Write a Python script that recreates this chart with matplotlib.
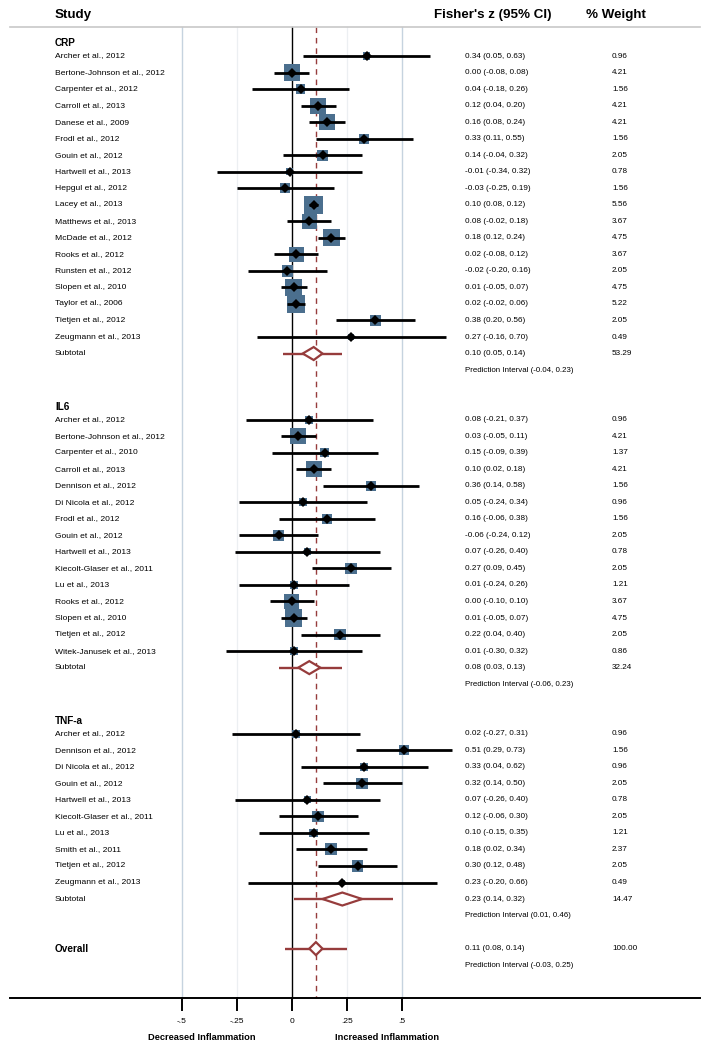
import numpy as np
import matplotlib
matplotlib.use("Agg")
import matplotlib.pyplot as plt
from matplotlib.patches import Polygon

plt.rcParams['font.family'] = ['Liberation Sans Narrow', 'Liberation Sans', 'DejaVu Sans']

# data
crp_studies = ["Archer et al., 2012", "Bertone-Johnson et al., 2012", "Carpenter et al., 2012",
               "Carroll et al., 2013", "Danese et al., 2009", "Frodl et al., 2012", "Gouin et al., 2012",
               "Hartwell et al., 2013", "Hepgul et al., 2012", "Lacey et al., 2013", "Matthews et al., 2013",
               "McDade et al., 2012", "Rooks et al., 2012", "Runsten et al., 2012", "Slopen et al., 2010",
               "Taylor et al., 2006", "Tietjen et al., 2012", "Zeugmann et al., 2013"]
crp_est = [0.34, 0.00, 0.04, 0.12, 0.16, 0.33, 0.14, -0.01, -0.03, 0.10, 0.08, 0.18, 0.02, -0.02, 0.01, 0.02, 0.38, 0.27]
crp_lo = [0.05, -0.08, -0.18, 0.04, 0.08, 0.11, -0.04, -0.34, -0.25, 0.08, -0.02, 0.12, -0.08, -0.20, -0.05, -0.02, 0.20, -0.16]
crp_hi = [0.63, 0.08, 0.26, 0.20, 0.24, 0.55, 0.32, 0.32, 0.19, 0.12, 0.18, 0.24, 0.12, 0.16, 0.07, 0.06, 0.56, 0.70]
crp_w = [0.96, 4.21, 1.56, 4.21, 4.21, 1.56, 2.05, 0.78, 1.56, 5.56, 3.67, 4.75, 3.67, 2.05, 4.75, 5.22, 2.05, 0.49]

il6_studies = ["Archer et al., 2012", "Bertone-Johnson et al., 2012", "Carpenter et al., 2010",
               "Carroll et al., 2013", "Dennison et al., 2012", "Di Nicola et al., 2012", "Frodl et al., 2012",
               "Gouin et al., 2012", "Hartwell et al., 2013", "Kiecolt-Glaser et al., 2011", "Lu et al., 2013",
               "Rooks et al., 2012", "Slopen et al., 2010", "Tietjen et al., 2012", "Witek-Janusek et al., 2013"]
il6_est = [0.08, 0.03, 0.15, 0.10, 0.36, 0.05, 0.16, -0.06, 0.07, 0.27, 0.01, 0.00, 0.01, 0.22, 0.01]
il6_lo = [-0.21, -0.05, -0.09, 0.02, 0.14, -0.24, -0.06, -0.24, -0.26, 0.09, -0.24, -0.10, -0.05, 0.04, -0.30]
il6_hi = [0.37, 0.11, 0.39, 0.18, 0.58, 0.34, 0.38, 0.12, 0.40, 0.45, 0.26, 0.10, 0.07, 0.40, 0.32]
il6_w = [0.96, 4.21, 1.37, 4.21, 1.56, 0.96, 1.56, 2.05, 0.78, 2.05, 1.21, 3.67, 4.75, 2.05, 0.86]

tnf_studies = ["Archer et al., 2012", "Dennison et al., 2012", "Di Nicola et al., 2012", "Gouin et al., 2012",
               "Hartwell et al., 2013", "Kiecolt-Glaser et al., 2011", "Lu et al., 2013", "Smith et al., 2011",
               "Tietjen et al., 2012", "Zeugmann et al., 2013"]
tnf_est = [0.02, 0.51, 0.33, 0.32, 0.07, 0.12, 0.10, 0.18, 0.30, 0.23]
tnf_lo = [-0.27, 0.29, 0.04, 0.14, -0.26, -0.06, -0.15, 0.02, 0.12, -0.20]
tnf_hi = [0.31, 0.73, 0.62, 0.50, 0.40, 0.30, 0.35, 0.34, 0.48, 0.66]
tnf_w = [0.96, 1.56, 0.96, 2.05, 0.78, 2.05, 1.21, 2.37, 2.05, 0.49]

groups = ["CRP", "IL6", "TNF-a"]
sub_est = [0.10, 0.08, 0.23]
sub_lo = [0.05, 0.03, 0.14]
sub_hi = [0.14, 0.13, 0.32]
sub_w = [53.29, 32.24, 14.47]
sub_pi_lo = [-0.04, -0.06, 0.01]
sub_pi_hi = [0.23, 0.23, 0.46]

overall = (0.11, 0.08, 0.14, 100.00)
overall_pi = (-0.03, 0.25)

tick_vals = [-0.5, -0.25, 0, 0.25, 0.5]
tick_labels = ["-.5", "-.25", "0", ".25", ".5"]

# layout (pixels)
W, H = 711, 1049
ZERO_PX, UNIT_PX = 291.7, 220.0
ROW0, ROWH = 56.0, 16.53
RED = "#963c3c"
NAVY = "#4b6f8e"

def px(p):
    return (p - ZERO_PX) / UNIT_PX

def rowy(r):
    return ROW0 + r * ROWH

fig = plt.figure(figsize=(W / 100, H / 100), dpi=100)
ax = fig.add_axes([0, 0, 1, 1])
ax.set_xlim(px(0), px(W))
ax.set_ylim(H, 0)
ax.axis("off")

top = 27
axis_y = rowy(57)

# background lines
ax.plot([px(10), px(700)], [top, top], color="#c8c8c8", lw=1.2)
for v in [-0.25, 0.25]:
    ax.plot([v, v], [top, axis_y], color="#eceff2", lw=0.9, zorder=0)
for v in [-0.5, 0.5]:
    ax.plot([v, v], [top, axis_y], color="#c6d3df", lw=1.0, zorder=0)
ax.plot([0, 0], [top, axis_y], color="black", lw=1.0, zorder=1)
ax.plot([overall[0], overall[0]], [top, axis_y], color=RED, lw=1.0, dashes=(4, 3.5), zorder=1)

# bottom axis
ax.plot([px(10), px(700)], [axis_y, axis_y], color="black", lw=1.4)
for v, lab in zip(tick_vals, tick_labels):
    ax.plot([v, v], [axis_y, axis_y + 12], color="black", lw=1.4)
    ax.text(v, axis_y + 23, lab, ha="center", va="center", fontsize=6.0)
ax.text(px(202), axis_y + 39, "Decreased Inflammation", ha="center", va="center", fontsize=6.7, fontweight="bold")
ax.text(px(387), axis_y + 39, "Increased Inflammation", ha="center", va="center", fontsize=6.7, fontweight="bold")

# header
LAB_X, NUM_X, W_X = px(55), px(465), px(612)
HFS = 9.6
ax.text(LAB_X, 15, "Study", ha="left", va="center", fontsize=HFS, fontweight="bold")
ax.text(px(434), 15, "Fisher's z (95% CI)", ha="left", va="center", fontsize=HFS, fontweight="bold")
ax.text(px(586), 15, "% Weight", ha="left", va="center", fontsize=HFS, fontweight="bold")

FS = 6.1   # study labels
NFS = 5.9  # numbers
PFS = 5.7  # prediction interval lines

def fmt(v):
    return "%.2f" % v

def diamond(est, lo, hi, y, pilo=None, pihi=None):
    if pilo is not None:
        ax.plot([pilo, pihi], [y, y], color=RED, lw=1.7, zorder=3, solid_capstyle="butt")
    poly = Polygon([(lo, y), (est, y - 6.5), (hi, y), (est, y + 6.5)], closed=True,
                   facecolor="white", edgecolor=RED, lw=1.6, zorder=4)
    ax.add_patch(poly)

sections = [
    (crp_studies, crp_est, crp_lo, crp_hi, crp_w, 0),
    (il6_studies, il6_est, il6_lo, il6_hi, il6_w, 22),
    (tnf_studies, tnf_est, tnf_lo, tnf_hi, tnf_w, 41),
]

for g, (names, est, lo, hi, w, r0) in enumerate(sections):
    ax.text(LAB_X, rowy(r0 - 0.79), groups[g], ha="left", va="center", fontsize=7.2, fontweight="bold")
    ys = [rowy(r0 + i) for i in range(len(names))]
    ax.scatter(est, ys, s=np.array(w) * 32.0, marker="s", color=NAVY, linewidths=0, zorder=2)
    for i in range(len(names)):
        ax.plot([lo[i], hi[i]], [ys[i], ys[i]], color="black", lw=2.0, zorder=3, solid_capstyle="butt")
        ax.text(LAB_X, ys[i], names[i], ha="left", va="center", fontsize=FS)
        ax.text(NUM_X, ys[i], "%s (%s, %s)" % (fmt(est[i]), fmt(lo[i]), fmt(hi[i])),
                ha="left", va="center", fontsize=NFS)
        ax.text(W_X, ys[i], fmt(w[i]), ha="left", va="center", fontsize=NFS)
    ax.plot(est, ys, "D", color="black", ms=4.8, mew=0, zorder=5)
    ysub = rowy(r0 + len(names))
    diamond(sub_est[g], sub_lo[g], sub_hi[g], ysub, sub_pi_lo[g], sub_pi_hi[g])
    ax.text(LAB_X, ysub, "Subtotal", ha="left", va="center", fontsize=FS)
    ax.text(NUM_X, ysub, "%s (%s, %s)" % (fmt(sub_est[g]), fmt(sub_lo[g]), fmt(sub_hi[g])),
            ha="left", va="center", fontsize=NFS)
    ax.text(W_X, ysub, fmt(sub_w[g]), ha="left", va="center", fontsize=NFS)
    ax.text(NUM_X, ysub + ROWH, "Prediction Interval (%s, %s)" % (fmt(sub_pi_lo[g]), fmt(sub_pi_hi[g])),
            ha="left", va="center", fontsize=PFS)

yo = rowy(54)
diamond(overall[0], overall[1], overall[2], yo, overall_pi[0], overall_pi[1])
ax.text(LAB_X, yo, "Overall", ha="left", va="center", fontsize=7.2, fontweight="bold")
ax.text(NUM_X, yo, "%s (%s, %s)" % (fmt(overall[0]), fmt(overall[1]), fmt(overall[2])),
        ha="left", va="center", fontsize=NFS)
ax.text(W_X, yo, "%.2f" % overall[3], ha="left", va="center", fontsize=NFS)
ax.text(NUM_X, yo + ROWH, "Prediction Interval (%s, %s)" % (fmt(overall_pi[0]), fmt(overall_pi[1])),
        ha="left", va="center", fontsize=PFS)

fig.savefig("out.png", dpi=100, facecolor="white")
